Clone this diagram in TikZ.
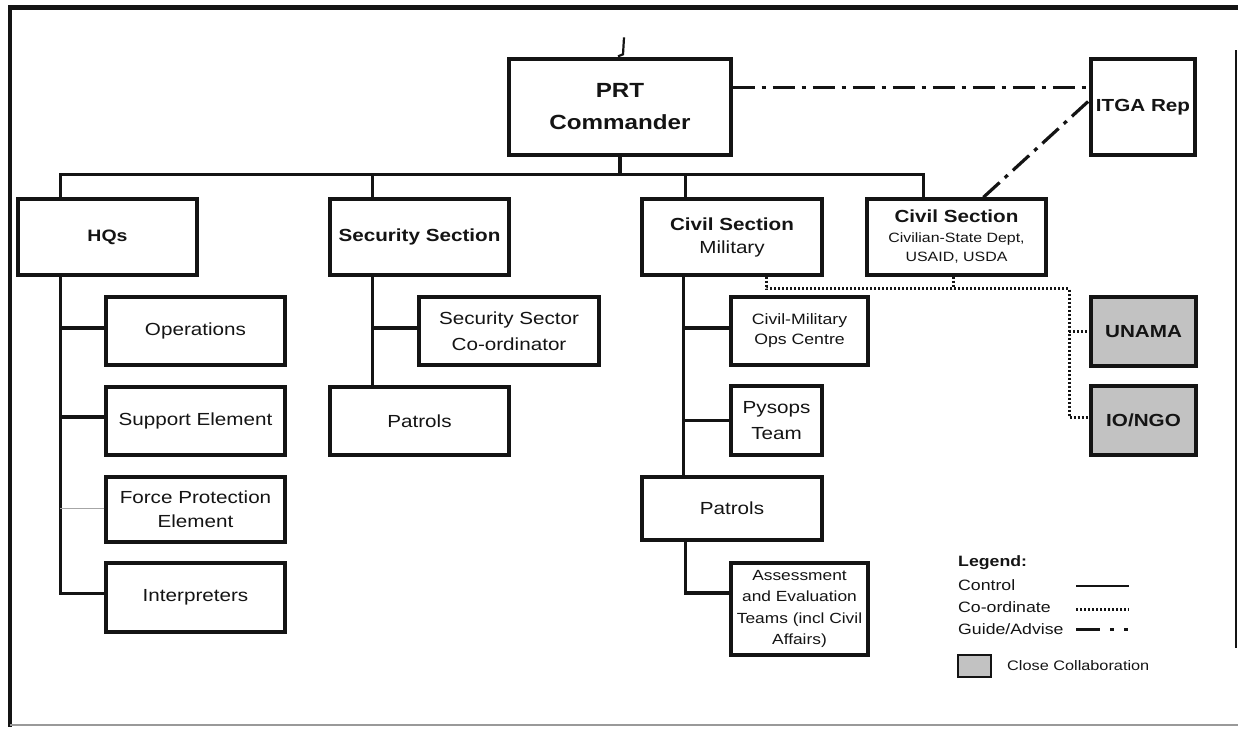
\documentclass[tikz,border=0pt]{standalone}
\usepackage{fontspec}
\setmainfont{Liberation Sans}[FakeStretch=1.18]
\usetikzlibrary{calc}
\definecolor{collab}{gray}{0.76}
\definecolor{ink}{gray}{0.08}
\begin{document}
\begin{tikzpicture}[x=1pt,y=-1pt,
  box/.style={draw=ink, line width=3.3pt, inner sep=0pt, align=center, text=ink,
    font=\fontsize{17.5}{25}\selectfont},
  sz/.style 2 args={minimum width=#1, minimum height=#2},
  shaded/.style={fill=collab},
  ctrl/.style={draw=ink, line width=3.2pt},
  thinlink/.style={draw=gray!70, line width=1.2pt},
  coord/.style={draw=ink, line width=3pt, dash pattern=on 2pt off 2pt},
  guide/.style={draw=ink, line width=3.2pt, dash pattern=on 22pt off 7pt on 4pt off 7pt},
  lgtext/.style={anchor=west, inner sep=0pt, text=ink, font=\fontsize{15}{18}\selectfont}]

\useasboundingbox (0,0) rectangle (1238,731);

% page frame
\draw[ink, line width=5pt] (8,7) -- (1238,7);
\draw[ink, line width=4pt] (10,5) -- (10,727);
\draw[ink, line width=1.6pt] (1236,50) -- (1236,648);
\draw[gray!80, line width=2pt] (10,725) -- (1238,725);

% top level
\node[box, sz={222}{96}, font=\fontsize{20.5}{32}\selectfont\bfseries] (prt) at (620,107) {PRT\\Commander};
\node[box, sz={104}{96}, font=\fontsize{17.5}{22}\selectfont\bfseries] (itga) at (1143,107) {ITGA Rep};

% sections
\node[box, sz={179}{76}, font=\fontsize{16.5}{22}\selectfont\bfseries] (hq) at (107.5,237) {HQs};
\node[box, sz={179}{76}, font=\fontsize{17.5}{22}\selectfont\bfseries] (sec) at (419.5,237) {Security Section};
\node[box, sz={180}{76}, font=\fontsize{17.5}{23}\selectfont] (civ1) at (732,237) {\textbf{Civil Section}\\Military};
\node[box, sz={179}{76}, font=\fontsize{13.5}{19.5}\selectfont] (civ2) at (956.5,237)
  {{\fontsize{17.5}{21}\selectfont\bfseries Civil Section}\\Civilian-State Dept,\\USAID, USDA};

% HQs elements
\node[box, sz={179}{68}] (ops) at (195.5,331) {Operations};
\node[box, sz={179}{68}] (sup) at (195.5,421) {Support Element};
\node[box, sz={179}{65}, font=\fontsize{17.5}{24}\selectfont] (fpe) at (195.5,509.5) {Force Protection\\Element};
\node[box, sz={179}{69}] (int) at (195.5,597.5) {Interpreters};

% security elements
\node[box, sz={180}{68}, font=\fontsize{17.5}{26}\selectfont] (ssc) at (509,331) {Security Sector\\Co-ordinator};
\node[box, sz={179}{68}] (spat) at (419.5,421) {Patrols};

% civil (military) elements
\node[box, sz={137}{68}, font=\fontsize{15}{20}\selectfont] (cmoc) at (799.5,331) {Civil-Military\\Ops Centre};
\node[box, sz={91}{69}, font=\fontsize{17.5}{26}\selectfont] (psy) at (776.5,420.5) {Pysops\\Team};
\node[box, sz={180}{63}] (cpat) at (732,508.5) {Patrols};
\node[box, sz={137}{92}, font=\fontsize{14.7}{21.5}\selectfont] (aet) at (799.5,609)
  {Assessment\\and Evaluation\\Teams (incl Civil\\Affairs)};

% partners
\node[box, shaded, sz={105}{69}, font=\fontsize{17.5}{22}\selectfont\bfseries] (unama) at (1143.5,331.5) {UNAMA};
\node[box, shaded, sz={105}{69}, font=\fontsize{17.5}{22}\selectfont\bfseries] (iongo) at (1143.5,420.5) {IO/NGO};

% command line above the commander
\coordinate (upT) at ($(prt.north)+(4,-20)$);
\draw[ctrl, line width=2.2pt] (upT) -- ($(prt.north)+(3,-3)$) -- ($(prt.north)+(-2,-1)$);

% control bus
\coordinate (busL) at ($(hq.north west)+(44,-23)$);
\coordinate (busR) at ($(civ2.north west)+(58,-23)$);
\draw[ctrl] (prt.south) -- (prt.south |- busL);
\draw[ctrl] ($(hq.north west)+(44,0)$) -- (busL) -- (busR) -- ($(civ2.north west)+(58,0)$);
\draw[ctrl] ($(sec.north west)+(44,0)$) -- ($(sec.north west)+(44,-23)$);
\draw[ctrl] ($(civ1.north west)+(45,0)$) -- ($(civ1.north west)+(45,-23)$);

% HQs trunk and its branches
\coordinate (hqT) at ($(hq.south west)+(44,0)$);
\coordinate (opsB) at ($(ops.west)+(0,-3)$);
\coordinate (supB) at ($(sup.west)+(0,-4)$);
\coordinate (fpeB) at ($(fpe.west)+(0,-1)$);
\coordinate (intB) at ($(int.west)+(0,-4)$);
\draw[ctrl] (hqT) |- (intB);
\draw[ctrl] (opsB) -- (opsB -| hqT);
\draw[ctrl] (supB) -- (supB -| hqT);
\draw[thinlink] (fpeB) -- (fpeB -| hqT);

% security trunk
\coordinate (secT) at ($(sec.south west)+(44,0)$);
\coordinate (sscB) at ($(ssc.west)+(0,-3)$);
\draw[ctrl] (secT) -- ($(spat.north west)+(44,0)$);
\draw[ctrl] (sscB) -- (sscB -| secT);

% civil trunk
\coordinate (civT) at ($(civ1.south west)+(43,0)$);
\coordinate (cmocB) at ($(cmoc.west)+(0,-3)$);
\coordinate (aetB) at ($(aet.west)+(0,-16)$);
\draw[ctrl] (civT) -- ($(cpat.north west)+(43,0)$);
\draw[ctrl] (cmocB) -- (cmocB -| civT);
\draw[ctrl] (psy.west) -- (psy.west -| civT);
\draw[ctrl] ($(cpat.south west)+(45,0)$) |- (aetB);

% guidance links
\draw[guide] ($(prt.north east)+(0,30)$) -- ($(itga.north west)+(0,30)$);
\draw[guide] ($(civ2.north west)+(118,0)$) -- ($(itga.north west)+(0,43)$);

% co-ordination links
\coordinate (dA) at ($(civ1.south west)+(126,12)$);
\coordinate (dB) at ($(unama.west)+(-20,0)$);
\coordinate (dC) at ($(iongo.west)+(-20,-3)$);
\coordinate (dD) at ($(iongo.west)+(0,-3)$);
\draw[coord] ($(civ1.south west)+(126,0)$) -- (dA) -- (dA -| dB) -- (dC) -- (dD);
\draw[coord] ($(civ2.south west)+(88,0)$) -- ($(civ2.south west)+(88,12)$);
\draw[coord] (dB) -- (unama.west);

% legend
\node[lgtext, font=\fontsize{15}{18}\selectfont\bfseries] (lgT) at (958,563) {Legend:};
\node[lgtext] (lgC) at (958,585) {Control};
\node[lgtext] (lgO) at (958,607) {Co-ordinate};
\node[lgtext] (lgG) at (958,629) {Guide/Advise};
\coordinate (lsC) at (1076,586);
\coordinate (lsO) at (1076,609);
\coordinate (lsG) at (1076,629);
\draw[ctrl, line width=2.6pt] (lsC) -- ++(53,0);
\draw[coord] (lsO) -- ++(53,0);
\draw[ink, line width=3pt, dash pattern=on 24pt off 10pt on 4pt off 10pt on 4pt off 60pt] (lsG) -- ++(53,0);
\node[draw=ink, fill=collab, line width=2.4pt, minimum width=33pt, minimum height=22pt, inner sep=0pt] (lgBox) at (974.5,666) {};
\node[lgtext, font=\fontsize{13.8}{16}\selectfont] (lgB) at (1007,666) {Close Collaboration};

\end{tikzpicture}
\end{document}
